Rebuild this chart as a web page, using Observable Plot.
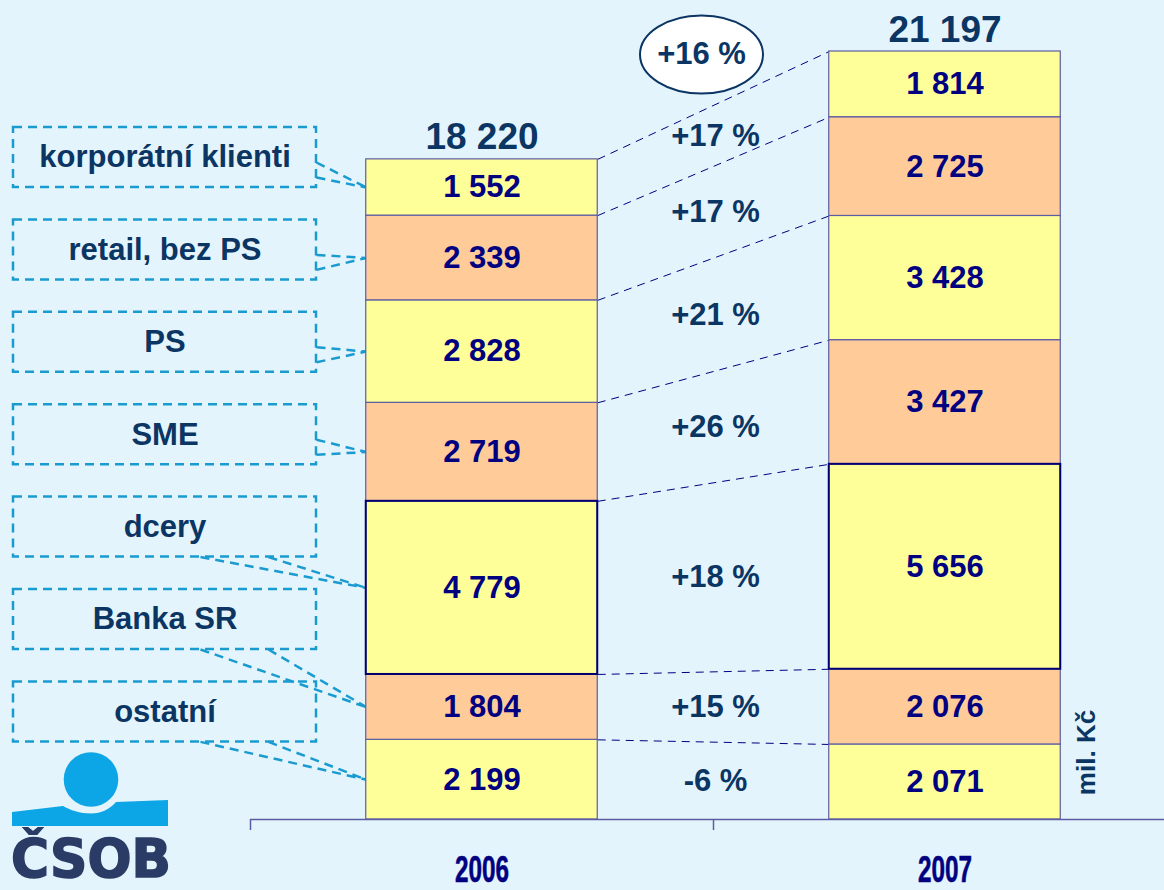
<!DOCTYPE html>
<html><head><meta charset="utf-8">
<script src="https://cdn.jsdelivr.net/npm/d3@7"></script>
<script src="https://cdn.jsdelivr.net/npm/@observablehq/plot@0.6"></script>
<style>
body{margin:0;background:#e4f4fc;}
#wrap{position:relative;width:1164px;height:890px;overflow:hidden;background:#e4f4fc;}
#logo{position:absolute;left:0;top:0;pointer-events:none;}
</style></head><body><div id="wrap"></div>
<script>
// ---- data ----
const years = [2006, 2007];
const segments = ["ostatní", "Banka SR", "dcery", "SME", "PS", "retail, bez PS", "korporátní klienti"];
const values2006 = [2199, 1804, 4779, 2719, 2828, 2339, 1552];
const values2007 = [2071, 2076, 5656, 3427, 3428, 2725, 1814];
const growthLabels = ["-6 %", "+15 %", "+18 %", "+26 %", "+21 %", "+17 %", "+17 %"];
const totalGrowthLabel = "+16 %";
const unitLabel = "mil. Kč";

// ---- derived ----
const valuesByYear = [values2006, values2007];
const rows = years.flatMap((yr, j) => {
  let acc = 0;
  return segments.map((s, i) => {
    const v = valuesByYear[j][i];
    const r = {year: yr, segment: s, i, value: v, y1: acc, y2: acc + v};
    acc += v;
    return r;
  });
});
const totals = years.map((yr, j) => ({year: yr, total: d3.sum(valuesByYear[j])}));
const maxTotal = d3.max(totals, d => d.total);
const fmt = d3.formatLocale({decimal: ",", thousands: " ", grouping: [3], currency: ["", ""]}).format(",d");
const r06 = rows.filter(d => d.year === years[0]);
const r07 = rows.filter(d => d.year === years[1]);
const half = 0.25; // half bar width (in year units)
const connectors = segments.map((s, i) => ({
  x1: years[0] + half, y1: r06[i].y2, x2: years[1] - half, y2: r07[i].y2
}));
const growth = segments.map((s, i) => ({
  text: growthLabels[i],
  y: ((r06[i].y1 + r06[i].y2) / 2 + (r07[i].y1 + r07[i].y2) / 2) / 2
}));

// ---- layout (pixels) ----
const W = 1164, H = 890, mTop = 51, mBottom = 71;
const xDomain = [years[0] - 0.5, years[1] + 0.5], xRange = [250, 1176];
const yDomain = [0, maxTotal], yRange = [H - mBottom, mTop];
const X = d3.scaleLinear(xDomain, xRange), Y = d3.scaleLinear(yDomain, yRange);

// callout boxes, top to bottom
const boxLeft = 13, boxRight = 316, boxH = 60, boxTop0 = 127, boxStep = 92.4;
const callouts = segments.slice().reverse().map((s, k) => {
  const i = segments.length - 1 - k;
  const top = boxTop0 + k * boxStep;
  return {segment: s, i, k, top};
});
const boxes = callouts.map(c => ({
  x1: X.invert(boxLeft), x2: X.invert(boxRight),
  y1: Y.invert(c.top), y2: Y.invert(c.top + boxH), label: c.segment,
  ty: Y.invert(c.top + boxH / 2)
}));
const leaders = callouts.flatMap(c => {
  const tx = years[0] - half, ty = (r06[c.i].y1 + r06[c.i].y2) / 2;
  const src = c.k < 4
    ? [[boxRight, c.top + 35], [boxRight, c.top + 50]]
    : [[200, c.top + boxH], [268, c.top + boxH]];
  return src.map(([px, py]) => ({x1: X.invert(px), y1: Y.invert(py), x2: tx, y2: ty}));
});

// ellipse symbol
const ellipse = {
  draw(ctx, size) {
    const r = Math.sqrt(size / Math.PI), ry = r, rx = r * 61.5 / 39, k = 0.5522848;
    ctx.moveTo(rx, 0);
    ctx.bezierCurveTo(rx, k * ry, k * rx, ry, 0, ry);
    ctx.bezierCurveTo(-k * rx, ry, -rx, k * ry, -rx, 0);
    ctx.bezierCurveTo(-rx, -k * ry, -k * rx, -ry, 0, -ry);
    ctx.bezierCurveTo(k * rx, -ry, rx, -k * ry, rx, 0);
    ctx.closePath();
  }
};

const navy = "#000080", dark = "#0b3563", cyan = "#1a9bd0", edge = "#5c5ca3";
const font = "'Liberation Sans', Arial, sans-serif";

const chart = Plot.plot({
  width: W, height: H,
  marginTop: mTop, marginBottom: mBottom, marginLeft: 0, marginRight: 0,
  style: {background: "transparent", fontFamily: font, overflow: "visible"},
  x: {domain: xDomain, range: xRange, axis: null},
  y: {domain: yDomain, range: yRange, axis: null},
  color: {type: "identity"},
  marks: [
    // callout leaders and boxes
    Plot.link(leaders, {x1: "x1", y1: "y1", x2: "x2", y2: "y2", stroke: cyan, strokeWidth: 2.5, strokeDasharray: "9,6"}),
    Plot.rect(boxes, {x1: "x1", x2: "x2", y1: "y1", y2: "y2", fill: "none", stroke: cyan, strokeWidth: 2.5, strokeDasharray: "9,6"}),
    Plot.text(boxes, {x: X.invert((boxLeft + boxRight) / 2), y: "ty", text: "label", fontSize: 31, fontWeight: "bold", fill: dark}),
    // connectors between bars
    Plot.link(connectors, {x1: "x1", y1: "y1", x2: "x2", y2: "y2", stroke: navy, strokeWidth: 1, strokeDasharray: "8,6"}),
    // stacked bars
    Plot.rect(rows, {x1: d => d.year - half, x2: d => d.year + half, y1: "y1", y2: "y2",
      fill: d => d.i % 2 ? "#ffcc99" : "#ffff99", stroke: edge, strokeWidth: 1.2}),
    Plot.rect(rows.filter(d => d.segment === "dcery"), {x1: d => d.year - half, x2: d => d.year + half, y1: "y1", y2: "y2",
      fill: "none", stroke: "#000070", strokeWidth: 2}),
    // axis
    Plot.ruleY([0], {x1: xDomain[0], x2: xDomain[1], stroke: edge, strokeWidth: 1.5}),
    Plot.ruleX([xDomain[0], (years[0] + years[1]) / 2, xDomain[1]], {y1: 0, y2: Y.invert(H - mBottom + 11), stroke: edge, strokeWidth: 1.5}),
    Plot.text(years, {x: d => d, y: 0, dy: 51, lineAnchor: "middle", text: d => String(d),
      fontSize: 37, fontWeight: "bold", fill: navy, stroke: navy, strokeWidth: 0.6}),
    // value labels
    Plot.text(rows, {x: "year", y: d => (d.y1 + d.y2) / 2, text: d => fmt(d.value), fontSize: 31, fontWeight: "bold", fill: navy}),
    // totals
    Plot.text(totals, {x: "year", y: "total", text: d => fmt(d.total), dy: -10, lineAnchor: "bottom", fontSize: 37, fontWeight: "bold", fill: dark}),
    // growth labels
    Plot.text(growth, {x: (years[0] + years[1]) / 2, y: "y", dx: 2, text: "text", fontSize: 31, fontWeight: "bold", fill: dark}),
    // total growth bubble
    Plot.dot([totalGrowthLabel], {x: (years[0] + years[1]) / 2, y: maxTotal, dx: -12, dy: 3, r: 39, symbol: ellipse, fill: "white", stroke: dark, strokeWidth: 2}),
    Plot.text([totalGrowthLabel], {x: (years[0] + years[1]) / 2, y: maxTotal, dx: -12, dy: 3, text: d => d, fontSize: 31, fontWeight: "bold", fill: dark}),
    // unit
    Plot.text([unitLabel], {x: years[1] + half, y: 0, dx: 26, dy: -67, rotate: -90, text: d => d, fontSize: 26, fontWeight: "bold", fill: dark})
  ]
});
// condensed year labels (narrow bold face)
const yearStrings = years.map(String);
chart.querySelectorAll("text").forEach(t => {
  if (yearStrings.includes(t.textContent.trim())) {
    t.setAttribute("textLength", "54");
    t.setAttribute("lengthAdjust", "spacingAndGlyphs");
  }
});
const wrap = document.getElementById("wrap");
wrap.appendChild(chart);

// ČSOB logo
wrap.insertAdjacentHTML("beforeend", `
<svg id="logo" width="${W}" height="${H}" viewBox="0 0 ${W} ${H}">
  <circle cx="91" cy="779.5" r="27.3" fill="#0ca6e6"/>
  <path d="M12,812 L63,806 C70,810 80,813.5 91,813.5 C101,813.5 110,809 116,802 L168,800 L168,826 L12,826 Z" fill="#0ca6e6"/>
  <text x="11" y="877" font-family="'DejaVu Sans', sans-serif" font-weight="bold" font-size="54" fill="#2a3c66"
    stroke="#2a3c66" stroke-width="1.6" textLength="160" lengthAdjust="spacingAndGlyphs">ČSOB</text>
</svg>`);
</script>
</body></html>
